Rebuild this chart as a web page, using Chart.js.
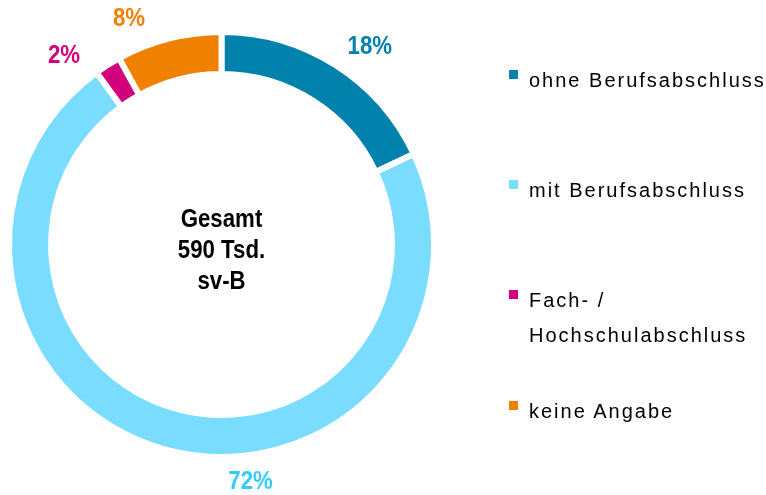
<!DOCTYPE html>
<html>
<head>
<meta charset="utf-8">
<script src="https://cdn.jsdelivr.net/npm/chart.js@4/dist/chart.umd.min.js"></script>
<style>
  html, body { margin: 0; padding: 0; background: #fff; }
  #wrap { position: relative; width: 766px; height: 495px; overflow: hidden; }
  #c { position: absolute; left: 0; top: 0; }
  .lg-sq { position: absolute; width: 9px; height: 9px; }
  .lg-tx { position: absolute; font-family: "Liberation Sans", Arial, sans-serif; font-size: 20px;
           line-height: 35px; letter-spacing: 2px; color: #000; white-space: nowrap; }
</style>
</head>
<body>
<div id="wrap">
  <canvas id="c" width="766" height="495"></canvas>
</div>
<script>
// ---- data ----
const categories = ['ohne Berufsabschluss', 'mit Berufsabschluss', 'Fach- / Hochschulabschluss', 'keine Angabe'];
const legendLines = [['ohne Berufsabschluss'], ['mit Berufsabschluss'], ['Fach- /', 'Hochschulabschluss'], ['keine Angabe']];
const shares = [18, 72, 2, 8];
const percentLabels = ['18%', '72%', '2%', '8%'];
const centerLines = ['Gesamt', '590 Tsd.', 'sv-B'];

// ---- styles ----
const ringColors = ['#0082AD', '#7ADCFF', '#D2007D', '#F08000'];
const labelColors = ['#0082AD', '#33CCFF', '#D2007D', '#F08000'];
// label placement (angle in degrees clockwise from top, distance from centre in px)
const labelAngle = [36.9, 173, -39.9, -22.3];
const labelDist = [247, 239, 245.6, 243.7];
const legendBaselines = [87, 197, 307, 418];

const labelPlugin = {
  id: 'ringLabels',
  afterDatasetsDraw(chart) {
    const meta = chart.getDatasetMeta(0);
    const ctx = chart.ctx;
    const arc0 = meta.data[0];
    const cx = arc0.x, cy = arc0.y;
    ctx.save();
    ctx.textAlign = 'center';
    ctx.textBaseline = 'middle';
    ctx.font = 'bold 25px "Liberation Sans", Arial, sans-serif';
    meta.data.forEach((arc, i) => {
      const a = labelAngle[i] * Math.PI / 180;
      const x = cx + Math.sin(a) * labelDist[i];
      const y = cy - Math.cos(a) * labelDist[i];
      ctx.fillStyle = labelColors[i];
      ctx.save();
      ctx.translate(x, y);
      ctx.scale(0.89, 1);
      ctx.fillText(percentLabels[i], 0, 0);
      ctx.restore();
    });
    // centre text
    ctx.fillStyle = '#000';
    ctx.textBaseline = 'alphabetic';
    const offs = [-17.5, 13.5, 44.5];
    centerLines.forEach((t, i) => {
      ctx.save();
      ctx.translate(cx, cy + offs[i]);
      ctx.scale(0.89, 1);
      ctx.fillText(t, 0, 0);
      ctx.restore();
    });
    ctx.restore();
  }
};

new Chart(document.getElementById('c'), {
  type: 'doughnut',
  data: {
    labels: categories,
    datasets: [{
      data: shares,
      backgroundColor: ringColors,
      borderColor: '#ffffff',
      borderWidth: 6,
      hoverOffset: 0
    }]
  },
  options: {
    responsive: false,
    animation: false,
    radius: 212.5,
    cutout: '80.2%',
    rotation: 0,
    layout: { padding: { left: 0, top: 0, right: 323, bottom: 6 } },
    plugins: { legend: { display: false }, tooltip: { enabled: false } },
    events: []
  },
  plugins: [labelPlugin]
});

// ---- legend (HTML) ----
const wrap = document.getElementById('wrap');
legendLines.forEach((lines, i) => {
  const b = legendBaselines[i];
  const sq = document.createElement('div');
  sq.className = 'lg-sq';
  sq.style.left = '509px';
  sq.style.top = (b - 17) + 'px';
  sq.style.background = ringColors[i];
  wrap.appendChild(sq);
  const tx = document.createElement('div');
  tx.className = 'lg-tx';
  tx.style.left = '529px';
  tx.style.top = (b - 24.4) + 'px';
  tx.innerHTML = lines.join('<br>');
  wrap.appendChild(tx);
});
</script>
</body>
</html>
